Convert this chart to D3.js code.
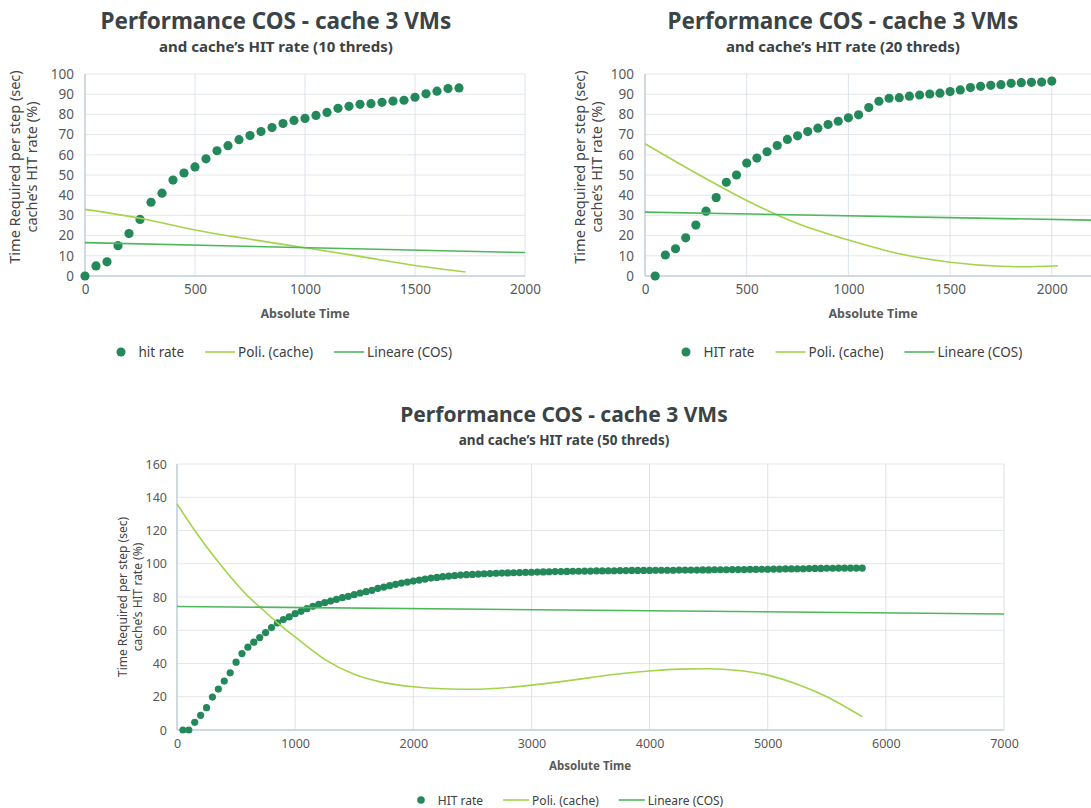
<!DOCTYPE html>
<html>
<head>
<meta charset="utf-8">
<script src="https://cdn.jsdelivr.net/npm/d3@7"></script>
<style>
  body { margin: 0; background: #fff; }
  svg { display: block; }
</style>
</head>
<body>
<svg id="chart" width="1091" height="808"></svg>
<script>
// ---- text ----
const titleText = 'Performance COS - cache 3 VMs'
const subtitle10 = 'and cache’s HIT rate (10 threds)'
const subtitle20 = 'and cache’s HIT rate (20 threds)'
const subtitle50 = 'and cache’s HIT rate (50 threds)'
const yTitleLines = ['Time Required per step (sec)', 'cache’s HIT rate (%)']
const xTitle = 'Absolute Time'
const legend10 = ['hit rate', 'Poli. (cache)', 'Lineare (COS)']
const legend20 = ['HIT rate', 'Poli. (cache)', 'Lineare (COS)']
const legend50 = ['HIT rate', 'Poli. (cache)', 'Lineare (COS)']

// ---- ticks ----
const yTicks100 = [0, 10, 20, 30, 40, 50, 60, 70, 80, 90, 100]
const xTicks2000 = [0, 500, 1000, 1500, 2000]
const xGrid2500 = [0, 500, 1000, 1500, 2000, 2500]
const yTicks160 = [0, 20, 40, 60, 80, 100, 120, 140, 160]
const xTicks7000 = [0, 1000, 2000, 3000, 4000, 5000, 6000, 7000]

// ---- 10 threads ----
const time10 = [0, 50, 100, 150, 200, 250, 300, 350, 400, 450, 500, 550, 600, 650, 700, 750, 800, 850,
  900, 950, 1000, 1050, 1100, 1150, 1200, 1250, 1300, 1350, 1400, 1450, 1500, 1550, 1600, 1650, 1700]
const hit10 = [0, 5, 7, 15, 21, 28, 36.5, 41, 47.5, 51, 54, 58, 62, 64.5, 67.5, 69.5, 71.5, 73.5,
  75.5, 77, 78, 79.5, 81, 83, 84, 85, 85.3, 86, 86.6, 87, 88.5, 90.2, 91.5, 92.8, 93.1]
const polyTime10 = [0, 250, 500, 750, 1000, 1250, 1500, 1730]
const poly10 = [33, 28.6, 22.8, 18.2, 14, 9.7, 5.2, 2]
const linTime10 = [0, 2000]
const lin10 = [16.5, 11.6]

// ---- 20 threads ----
const time20 = [50, 100, 150, 200, 250, 300, 350, 400, 450, 500, 550, 600, 650, 700, 750, 800, 850, 900,
  950, 1000, 1050, 1100, 1150, 1200, 1250, 1300, 1350, 1400, 1450, 1500, 1550, 1600, 1650, 1700, 1750,
  1800, 1850, 1900, 1950, 2000]
const hit20 = [0, 10.4, 13.5, 18.9, 25.2, 32.1, 38.8, 46.4, 50, 55.9, 58.4, 61.5, 64.6, 67.6, 69.4, 71.5,
  73.2, 75, 76.6, 78.3, 79.8, 83.4, 86.5, 88, 88.3, 89, 89.6, 90.1, 90.5, 91.3, 92.1, 93.3, 93.9, 94.4,
  94.7, 95.4, 95.7, 95.9, 96, 96.5]
const polyTime20 = [0, 250, 500, 650, 750, 1000, 1250, 1500, 1750, 1850, 2030]
const poly20 = [65.5, 51, 37.4, 30.2, 26, 17.8, 11, 6.8, 4.8, 4.6, 5.1]
const linTime20 = [0, 2500]
const lin20 = [31.6, 27.1]

// ---- 50 threads ----
const time50 = d3.range(50, 5801, 50)   // one sample every 50 s
const hit50 = [0, 0, 4.6, 8.8, 13.4, 19.8, 24.6, 29.4, 34.4, 40.8, 46, 49.8, 52.8, 55.6, 58.6, 61.6,
  64.4, 66.4, 68, 70, 71.4, 73, 74.4, 75.6, 76.6, 77.6, 78.6, 79.6, 80.4, 81.4, 82.4, 83.2, 84, 85.2,
  86, 86.8, 87.6, 88.4, 89, 89.6, 90.2, 90.8, 91.4, 91.8, 92.2, 92.6, 92.8, 93.2, 93.4, 93.6, 93.8, 94,
  94.1, 94.3, 94.4, 94.5, 94.6, 94.7, 94.8, 94.9, 95, 95.1, 95.2, 95.3, 95.3, 95.4, 95.5, 95.5, 95.6,
  95.6, 95.7, 95.7, 95.8, 95.8, 95.9, 95.9, 96, 96, 96, 96, 96.1, 96.1, 96.1, 96.1, 96.2, 96.2, 96.2,
  96.2, 96.3, 96.3, 96.4, 96.4, 96.4, 96.5, 96.5, 96.5, 96.6, 96.6, 96.7, 96.7, 96.8, 96.8, 96.9, 96.9,
  97, 97, 97.1, 97.2, 97.2, 97.3, 97.3, 97.4, 97.4, 97.4, 97.4, 97.4]
const polyTime50 = [0, 150, 350, 600, 700, 850, 1000, 1250, 1500, 1750, 2000, 2250, 2500, 2750, 3000,
  3250, 3500, 3750, 4000, 4250, 4500, 4750, 5000, 5250, 5500, 5800]
const poly50 = [136, 120, 101, 80.5, 74, 64.5, 56, 42.5, 33.5, 28.5, 26, 24.8, 24.5, 25.3, 27, 29.1,
  31.5, 33.8, 35.5, 36.6, 36.8, 35.8, 33, 27.5, 20, 8]
const linTime50 = [0, 7000]
const lin50 = [74.3, 69.8]

const colors = { hit: '#24895a', poly: '#a4d44a', lin: '#4db75b' }
const FONT = '"Noto Sans", "Open Sans", sans-serif'

const svg = d3.select('#chart')

function drawChart(cfg) {
  const g = svg.append('g')
  const x = d3.scaleLinear().domain(cfg.xDomain).range([cfg.left, cfg.right])
  const y = d3.scaleLinear().domain(cfg.yDomain).range([cfg.bottom, cfg.top])

  // titles
  g.append('text')
      .attr('x', cfg.titleX).attr('y', cfg.titleY)
      .attr('text-anchor', 'middle')
      .attr('font-family', FONT).attr('font-weight', 700)
      .attr('font-size', cfg.titleSize).attr('fill', '#3a4346')
      .text(titleText)
  g.append('text')
      .attr('x', cfg.titleX).attr('y', cfg.subY)
      .attr('text-anchor', 'middle')
      .attr('font-family', FONT).attr('font-weight', 700)
      .attr('font-size', cfg.subSize).attr('fill', '#3a4346')
      .text(cfg.subtitle)

  // grid
  g.append('g').selectAll('line').data(cfg.yTicks).join('line')
      .attr('x1', cfg.left).attr('x2', cfg.right)
      .attr('y1', d => y(d)).attr('y2', d => y(d))
      .attr('stroke', '#e3e7eb').attr('stroke-width', 1)
  g.append('g').selectAll('line').data(cfg.xGrid || cfg.xTicks).join('line')
      .attr('x1', d => x(d)).attr('x2', d => x(d))
      .attr('y1', cfg.top).attr('y2', cfg.bottom)
      .attr('stroke', '#dce3ea').attr('stroke-width', 1)
  g.append('line')
      .attr('x1', cfg.left).attr('x2', cfg.left).attr('y1', cfg.top).attr('y2', cfg.bottom)
      .attr('stroke', '#c3d0dc').attr('stroke-width', 1.5)
  g.append('line')
      .attr('x1', cfg.left).attr('x2', cfg.right).attr('y1', cfg.bottom).attr('y2', cfg.bottom)
      .attr('stroke', '#c3d0dc').attr('stroke-width', 1.5)

  // axes
  g.append('g')
      .attr('transform', 'translate(0,' + cfg.bottom + ')')
      .call(d3.axisBottom(x).tickValues(cfg.xTicks).tickFormat(d3.format('d')).tickSize(0).tickPadding(cfg.xPad))
      .attr('font-family', FONT).attr('font-size', cfg.tickSize)
      .call(a => a.select('.domain').remove())
      .selectAll('text').attr('fill', '#595959')
  g.append('g')
      .attr('transform', 'translate(' + cfg.left + ',0)')
      .call(d3.axisLeft(y).tickValues(cfg.yTicks).tickFormat(d3.format('d')).tickSize(0).tickPadding(cfg.yPad))
      .attr('font-family', FONT).attr('font-size', cfg.tickSize)
      .call(a => a.select('.domain').remove())
      .selectAll('text').attr('fill', '#595959')

  // axis titles
  g.append('text')
      .attr('x', cfg.xTitleX).attr('y', cfg.xTitleY)
      .attr('text-anchor', 'middle')
      .attr('font-family', FONT).attr('font-weight', 700)
      .attr('font-size', cfg.axisTitleSize).attr('fill', '#595959')
      .text(xTitle)
  yTitleLines.forEach((line, i) => {
    g.append('text')
        .attr('transform', 'translate(' + cfg.yTitleX[i] + ',' + cfg.yTitleY + ') rotate(-90)')
        .attr('text-anchor', 'middle')
        .attr('dominant-baseline', 'central')
        .attr('font-family', FONT)
        .attr('font-size', cfg.yTitleSize).attr('fill', '#454545')
        .text(line)
  })

  // hit rate points
  g.append('g').selectAll('circle')
      .data(cfg.hit)
      .join('circle')
      .attr('cx', (d, i) => x(cfg.time[i]))
      .attr('cy', d => y(d))
      .attr('r', cfg.radius)
      .attr('fill', colors.hit)

  // trendlines
  const polyLine = d3.line()
      .x((d, i) => x(cfg.polyTime[i]))
      .y(d => y(d))
      .curve(d3.curveMonotoneX)
  g.append('path')
      .datum(cfg.poly)
      .attr('d', polyLine)
      .attr('fill', 'none').attr('stroke', colors.poly).attr('stroke-width', 1.6)

  const linLine = d3.line()
      .x((d, i) => x(cfg.linTime[i]))
      .y(d => y(d))
  g.append('path')
      .datum(cfg.lin)
      .attr('d', linLine)
      .attr('fill', 'none').attr('stroke', colors.lin).attr('stroke-width', 1.6)

  // legend
  const lg = g.append('g')
      .attr('font-family', FONT).attr('font-size', cfg.legendSize).attr('fill', '#404040')
  let cx = cfg.legendX
  const ly = cfg.legendY
  lg.append('circle').attr('cx', cx).attr('cy', ly).attr('r', cfg.legendR).attr('fill', colors.hit)
  cx += cfg.legendR + 13
  let t = lg.append('text').attr('x', cx).attr('y', ly).attr('dominant-baseline', 'central').text(cfg.legend[0])
  cx += t.node().getComputedTextLength() + cfg.legendGap
  ;[colors.poly, colors.lin].forEach((c, i) => {
    lg.append('line')
        .attr('x1', cx).attr('x2', cx + cfg.legendLine)
        .attr('y1', ly).attr('y2', ly)
        .attr('stroke', c).attr('stroke-width', 1.6)
    cx += cfg.legendLine + 3
    t = lg.append('text').attr('x', cx).attr('y', ly).attr('dominant-baseline', 'central').text(cfg.legend[i + 1])
    cx += t.node().getComputedTextLength() + cfg.legendGap
  })
}

const topStyle = {
  top: 74, bottom: 276, yDomain: [0, 100], yTicks: yTicks100,
  titleY: 29, subY: 52, titleSize: 22.5, subSize: 15,
  tickSize: 13.5, xPad: 8, yPad: 11,
  axisTitleSize: 12.5, xTitleY: 318, yTitleY: 167, yTitleSize: 14.5,
  radius: 4.6, legendY: 352, legendSize: 13.5, legendR: 4.5, legendGap: 21, legendLine: 30
}

drawChart(Object.assign({}, topStyle, {
  left: 85, right: 525, xDomain: [0, 2000], xTicks: xTicks2000,
  titleX: 276, subtitle: subtitle10,
  xTitleX: 305, yTitleX: [14, 31],
  time: time10, hit: hit10, polyTime: polyTime10, poly: poly10, linTime: linTime10, lin: lin10,
  legend: legend10, legendX: 121
}))

drawChart(Object.assign({}, topStyle, {
  left: 645, right: 1153.5, xDomain: [0, 2500], xTicks: xTicks2000, xGrid: xGrid2500,
  titleX: 843, subtitle: subtitle20,
  xTitleX: 873, yTitleX: [579, 596],
  time: time20, hit: hit20, polyTime: polyTime20, poly: poly20, linTime: linTime20, lin: lin20,
  legend: legend20, legendX: 686
}))

drawChart({
  left: 177, right: 1004, top: 464, bottom: 730, xDomain: [0, 7000], yDomain: [0, 160],
  xTicks: xTicks7000, yTicks: yTicks160,
  titleX: 564, titleY: 422, subY: 445, titleSize: 21, subSize: 13.5, subtitle: subtitle50,
  tickSize: 12.5, xPad: 9, yPad: 10,
  axisTitleSize: 11.5, xTitleX: 590, xTitleY: 770, yTitleX: [122, 137], yTitleY: 597, yTitleSize: 12,
  time: time50, hit: hit50, polyTime: polyTime50, poly: poly50, linTime: linTime50, lin: lin50,
  radius: 3.6, legend: legend50, legendX: 421, legendY: 800, legendSize: 12, legendR: 3.8,
  legendGap: 20, legendLine: 26
})
</script>
</body>
</html>
